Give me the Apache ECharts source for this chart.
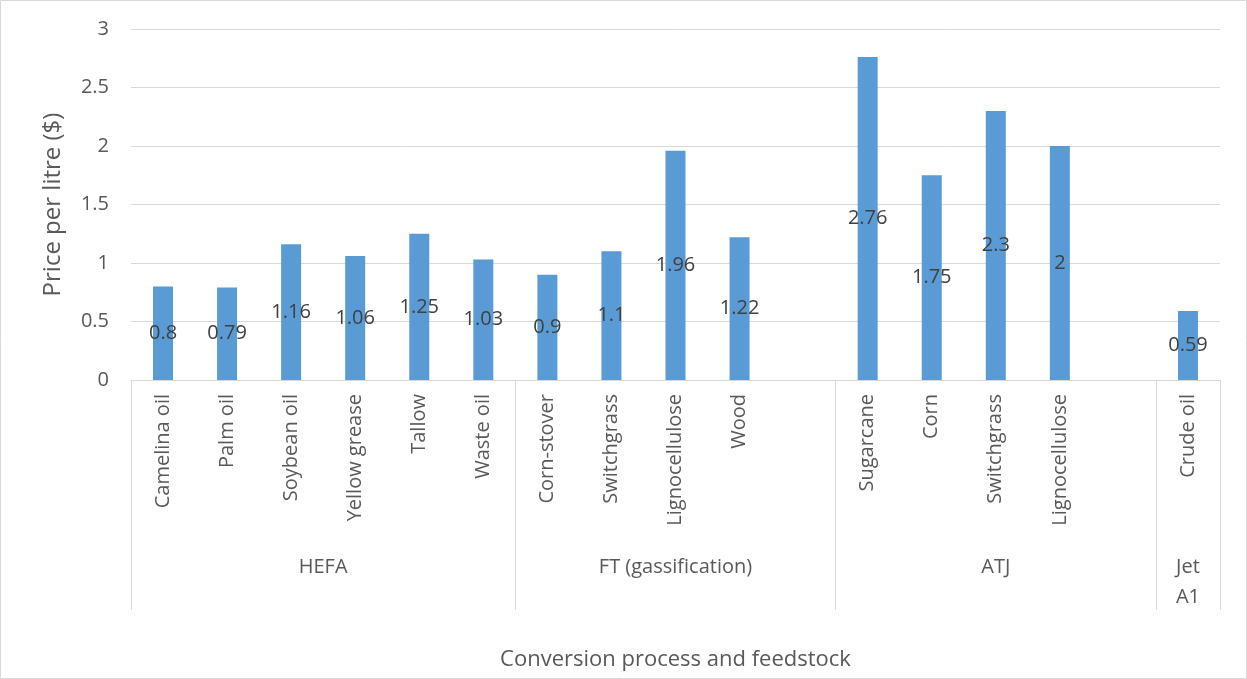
<!DOCTYPE html>
<html>
<head>
<meta charset="utf-8">
<script src="https://cdn.jsdelivr.net/npm/echarts@6/dist/echarts.min.js"></script>
<style>
  html, body { margin: 0; padding: 0; background: #fff; }
  #main { width: 1247px; height: 679px; }
</style>
</head>
<body>
<div id="main"></div>
<script>
// feedstocks, with a blank slot closing the FT and ATJ groups
var feedstocks = ['Camelina oil', 'Palm oil', 'Soybean oil', 'Yellow grease', 'Tallow', 'Waste oil',
    'Corn-stover', 'Switchgrass', 'Lignocellulose', 'Wood', '',
    'Sugarcane', 'Corn', 'Switchgrass', 'Lignocellulose', '',
    'Crude oil'];
var prices = [0.8, 0.79, 1.16, 1.06, 1.25, 1.03,
    0.9, 1.1, 1.96, 1.22, null,
    2.76, 1.75, 2.3, 2, null,
    0.59];
var processes = ['HEFA', 'FT (gassification)', 'ATJ', 'Jet\nA1'];
var processSizes = [6, 5, 5, 1];
var yTicks = [0, 0.5, 1, 1.5, 2, 2.5, 3];

// group start indices (for separators) and centres (for group labels)
var groupStarts = [];
var groupCentres = {};
var pos = 0;
processSizes.forEach(function (n, i) {
    groupStarts.push(pos);
    groupCentres[pos + n / 2] = processes[i];
    pos += n;
});

var grey = '#D9D9D9';
var textGrey = '#595959';

var myChart = echarts.init(document.getElementById('main'));
var option = {
    animation: false,
    textStyle: { fontFamily: 'Open Sans' },
    graphic: [{
        type: 'rect',
        shape: { x: 0.5, y: 0.5, width: 1246, height: 678 },
        style: { fill: 'none', stroke: grey, lineWidth: 1 }
    }],
    grid: {
        left: 131,
        right: 27,
        top: 29,
        bottom: 299,
        containLabel: false,
        outerBoundsMode: 'none'
    },
    xAxis: [
        {
            type: 'category',
            data: feedstocks,
            name: 'Conversion process and feedstock',
            nameLocation: 'middle',
            nameGap: 269,
            nameTextStyle: { fontSize: 22, color: textGrey },
            axisLine: { lineStyle: { color: grey, width: 1 } },
            axisTick: { show: false },
            axisLabel: {
                interval: 0,
                rotate: 90,
                margin: 14,
                fontSize: 20,
                color: textGrey
            }
        },
        {
            // group separators
            type: 'category',
            data: feedstocks,
            position: 'bottom',
            axisLine: { show: false },
            axisTick: {
                show: true,
                length: 230,
                interval: function (idx) { return groupStarts.indexOf(idx) >= 0; },
                lineStyle: { color: grey, width: 1 }
            },
            axisLabel: { show: false }
        },
        {
            // group names
            type: 'value',
            min: 0,
            max: feedstocks.length,
            interval: 0.5,
            position: 'bottom',
            offset: 164,
            axisLine: { show: false },
            axisTick: { show: false },
            splitLine: { show: false },
            axisLabel: {
                margin: 8,
                fontSize: 20,
                lineHeight: 30,
                color: textGrey,
                showMinLabel: true,
                showMaxLabel: true,
                formatter: function (v) { return groupCentres[v] || ''; }
            }
        }
    ],
    yAxis: {
        type: 'value',
        min: yTicks[0],
        max: yTicks[yTicks.length - 1],
        interval: 0.5,
        name: 'Price per litre ($)',
        nameLocation: 'middle',
        nameGap: 66,
        nameTextStyle: { fontSize: 24, color: textGrey },
        axisLine: { show: false },
        axisTick: { show: false },
        splitLine: { lineStyle: { color: grey, width: 1 } },
        axisLabel: { fontSize: 20, color: textGrey, margin: 22 }
    },
    series: [{
        name: 'Price per litre',
        type: 'bar',
        xAxisIndex: 0,
        barWidth: 20,
        data: prices,
        itemStyle: { color: '#5B9BD5' },
        label: {
            show: true,
            position: 'inside',
            fontSize: 20,
            color: '#404040'
        }
    }]
};
myChart.setOption(option);
</script>
</body>
</html>
